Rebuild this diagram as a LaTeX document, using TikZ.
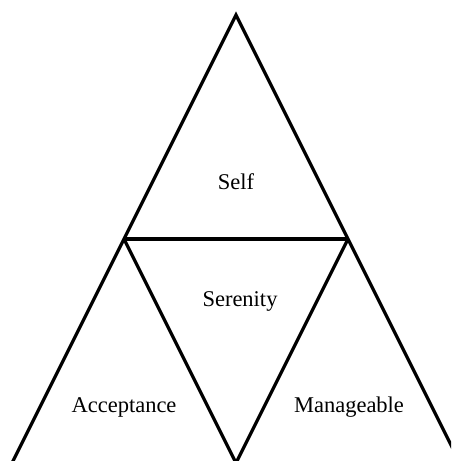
\documentclass[tikz,border=0pt]{standalone}
\usepackage{fontspec}
\setmainfont{Liberation Serif}

\tikzset{
  edge/.style={line width=3.2pt},
  label/.style={font=\fontsize{22.5}{27}\selectfont}
}

\begin{document}
\begin{tikzpicture}[x=1pt,y=-1pt]
\useasboundingbox (0,0) rectangle (451,461);
\clip (0,0) rectangle (451,461);
\coordinate (apex) at (236,15);
\coordinate (baseL) at (12,463);
\coordinate (baseR) at (460,463);
\coordinate (midL) at (124,239);
\coordinate (midR) at (348,239);
\coordinate (baseM) at (236,463);

\draw[edge] (baseL) -- (apex) -- (baseR);
\draw[edge] (midL) -- (midR);
\draw[edge] (midL) -- (baseM) -- (midR);

\node[label] (self) at (236,182) {Self};
\node[label] (serenity) at (240,301) {Serenity};
\node[label] (acceptance) at (124,407) {Acceptance};
\node[label] (manageable) at (349,407) {Manageable};
\end{tikzpicture}
\end{document}
